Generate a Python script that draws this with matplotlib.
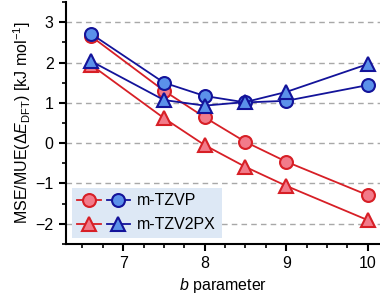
import matplotlib
matplotlib.use("Agg")
import matplotlib.pyplot as plt
from matplotlib.lines import Line2D
from matplotlib.legend_handler import HandlerTuple
from matplotlib.ticker import MultipleLocator

plt.rcParams['font.family'] = ['Liberation Sans', 'DejaVu Sans']
plt.rcParams['mathtext.fontset'] = 'custom'
plt.rcParams['mathtext.rm'] = 'Liberation Sans'
plt.rcParams['mathtext.it'] = 'Liberation Sans:italic'

b_values = [6.6, 7.5, 8.0, 8.5, 9.0, 10.0]
mse_tzvp = [2.66, 1.30, 0.64, 0.03, -0.46, -1.29]
mse_tzv2px = [1.95, 0.62, -0.05, -0.59, -1.06, -1.91]
mue_tzvp = [2.72, 1.50, 1.17, 1.01, 1.05, 1.44]
mue_tzv2px = [2.04, 1.07, 0.93, 1.02, 1.27, 1.96]
series_labels = ['m-TZVP', 'm-TZV2PX']

red_line = '#d71f26'
red_face = '#f27b8a'
blue_line = '#13139a'
blue_face = '#5b91ea'

fig = plt.figure(figsize=(3.8, 2.96), dpi=100)
ax = fig.add_axes([0.174, 0.176, 0.826, 0.817])

ms = 9.3
lw = 1.3
for y, mk, lc, fc, z in [
    (mse_tzvp, 'o', red_line, red_face, 3),
    (mse_tzv2px, '^', red_line, red_face, 3),
    (mue_tzvp, 'o', blue_line, blue_face, 4),
    (mue_tzv2px, '^', blue_line, blue_face, 5),
]:
    ax.plot(b_values, y, color=lc, lw=lw, marker=mk,
            ms=ms if mk == 'o' else ms + 1, mfc=fc, mec=lc, mew=1.5,
            clip_on=False, zorder=z)

ax.set_xlim(6.3, 10.15)
ax.set_ylim(-2.5, 3.5)
ax.xaxis.set_major_locator(MultipleLocator(1))
ax.xaxis.set_minor_locator(MultipleLocator(0.25))
ax.yaxis.set_major_locator(MultipleLocator(1))
ax.yaxis.set_minor_locator(MultipleLocator(0.5))
ax.set_yticks([3, 2, 1, 0, -1, -2])

for s in ['top', 'right']:
    ax.spines[s].set_visible(False)
for s in ['left', 'bottom']:
    ax.spines[s].set_linewidth(1.5)
ax.tick_params(which='major', direction='out', length=5, width=1.5, labelsize=11.5, pad=4)
ax.tick_params(which='minor', direction='out', length=3, width=1.2)
ax.grid(axis='y', which='major', color='#a8a8a8', ls=(0, (4, 3)), lw=1.0, zorder=0)

ax.set_xlabel(r'$\mathit{b}$ parameter', fontsize=11.5, labelpad=3)
ax.set_ylabel(r'MSE/MUE($\Delta\mathit{E}_{\rm DFT}$) [kJ mol$^{-1}$]', fontsize=11.5, labelpad=2)

def h(mk, lc, fc):
    return Line2D([], [], color=lc, lw=1.3, marker=mk, ms=ms if mk == 'o' else ms + 1,
                  mfc=fc, mec=lc, mew=1.5)

handles = [(h('o', red_line, red_face), h('o', blue_line, blue_face)),
           (h('^', red_line, red_face), h('^', blue_line, blue_face))]
leg = ax.legend(handles, series_labels, handler_map={tuple: HandlerTuple(ndivide=None, pad=0.4)},
                loc='lower left', bbox_to_anchor=(0.018, 0.025), fontsize=11.5,
                frameon=True, fancybox=False, handlelength=3.3, handletextpad=0.45,
                borderpad=0.35, labelspacing=0.55, borderaxespad=0)
leg.get_frame().set_facecolor('#dde8f5')
leg.get_frame().set_edgecolor('none')
leg.get_frame().set_alpha(1)

fig.savefig('out.png', dpi=100)
